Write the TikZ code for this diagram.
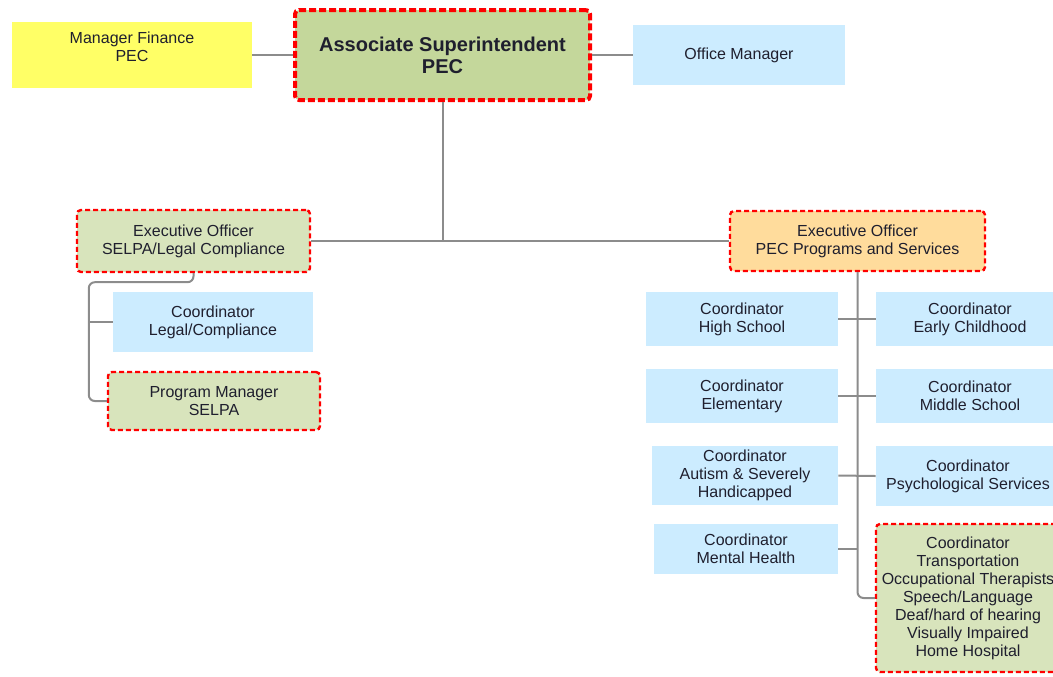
\documentclass[tikz,border=0pt]{standalone}
\usepackage{fontspec}
\setmainfont{Liberation Sans}

\definecolor{finyellow}{HTML}{FFFF66}
\definecolor{supgreen}{HTML}{C4D79B}
\definecolor{selgreen}{HTML}{D8E4BC}
\definecolor{coordblue}{HTML}{CCECFF}
\definecolor{peorange}{HTML}{FFDC9C}
\definecolor{linegray}{HTML}{8C8C8C}
\definecolor{textdark}{HTML}{1F1F2E}

\tikzset{
  box/.style={rectangle, align=center, text=textdark, inner sep=0pt,
    font=\fontsize{8}{9}\selectfont},
  bluebox/.style={box, fill=coordblue},
  redline/.style={draw=red, line width=1.2pt, dash pattern=on 2.5pt off 1.5pt,
    rounded corners=2pt},
  conn/.style={draw=linegray, line width=1pt},
}

\begin{document}
\begin{tikzpicture}[x=0.5pt,y=-0.5pt]
\useasboundingbox (0,0) rectangle (1053,676);

%top row
\node[box, fill=finyellow, minimum width=120pt, minimum height=33pt, text depth=8pt] (fin) at (132,55) {Manager Finance\\PEC};
\node[box, fill=supgreen, redline, line width=2pt, dash pattern=on 3.5pt off 1.5pt,
  minimum width=147.5pt, minimum height=45pt, font=\bfseries\fontsize{10}{11}\selectfont]
  (assoc) at (442.5,55) {Associate Superintendent\\PEC};
\node[bluebox, minimum width=106pt, minimum height=30pt] (office) at (739,55) {Office Manager};

\draw[conn] (fin) -- (assoc);
\draw[conn] (assoc) -- (office);

%executive officers
\node[box, fill=selgreen, redline, minimum width=116.5pt, minimum height=31pt] (selpa) at (193.5,241) {Executive Officer\\SELPA/Legal Compliance};
\node[box, fill=peorange, redline, minimum width=127.5pt, minimum height=30pt] (pecx) at (857.5,241) {Executive Officer\\PEC Programs and Services};

\draw[conn] (assoc.south) |- (selpa.east);
\draw[conn] (assoc.south) |- (pecx.west);

%left branch
\node[bluebox, minimum width=100pt, minimum height=30pt] (legal) at (213,322) {Coordinator\\Legal/Compliance};
\node[box, fill=selgreen, redline, minimum width=106pt, minimum height=29pt] (mgr) at (214,401) {Program Manager\\SELPA};

\draw[conn, rounded corners=3pt] (selpa.south) -- ++(0,9) -| ([xshift=-9pt]mgr.west) -- (mgr.west);
\draw[conn] (legal.west) -- ++(-23,0);

%right branch, left column
\node[bluebox, minimum width=96pt, minimum height=27pt] (hs) at (742,319) {Coordinator\\High School};
\node[bluebox, minimum width=96pt, minimum height=27pt] (elem) at (742,396) {Coordinator\\Elementary};
\node[bluebox, minimum width=93pt, minimum height=29.5pt] (aut) at (745,475.5) {Coordinator\\Autism \& Severely\\Handicapped};
\node[bluebox, minimum width=92pt, minimum height=25pt] (mh) at (746,549) {Coordinator\\Mental Health};

%right branch, right column
\node[bluebox, minimum width=94pt, minimum height=27pt] (ec) at (970,319) {Coordinator\\Early Childhood};
\node[bluebox, minimum width=94pt, minimum height=27pt] (mid) at (970,396) {Coordinator\\Middle School};
\node[bluebox, minimum width=92pt, minimum height=30pt] (psy) at (968,476) {Coordinator\\Psychological Services};
\node[box, fill=selgreen, redline, minimum width=92pt, minimum height=74pt] (trans) at (968,598)
  {Coordinator\\Transportation\\Occupational Therapists\\Speech/Language\\Deaf/hard of hearing\\Visually Impaired\\Home Hospital};

\draw[conn, rounded corners=3pt] (pecx.south) |- (trans.west);
\draw[conn] (hs.east) -- (ec.west);
\draw[conn] (elem.east) -- (mid.west);
\draw[conn] (aut.east) -- (psy.west);
\draw[conn] (mh.east) -- (mh.east -| pecx.south);

\end{tikzpicture}
\end{document}
